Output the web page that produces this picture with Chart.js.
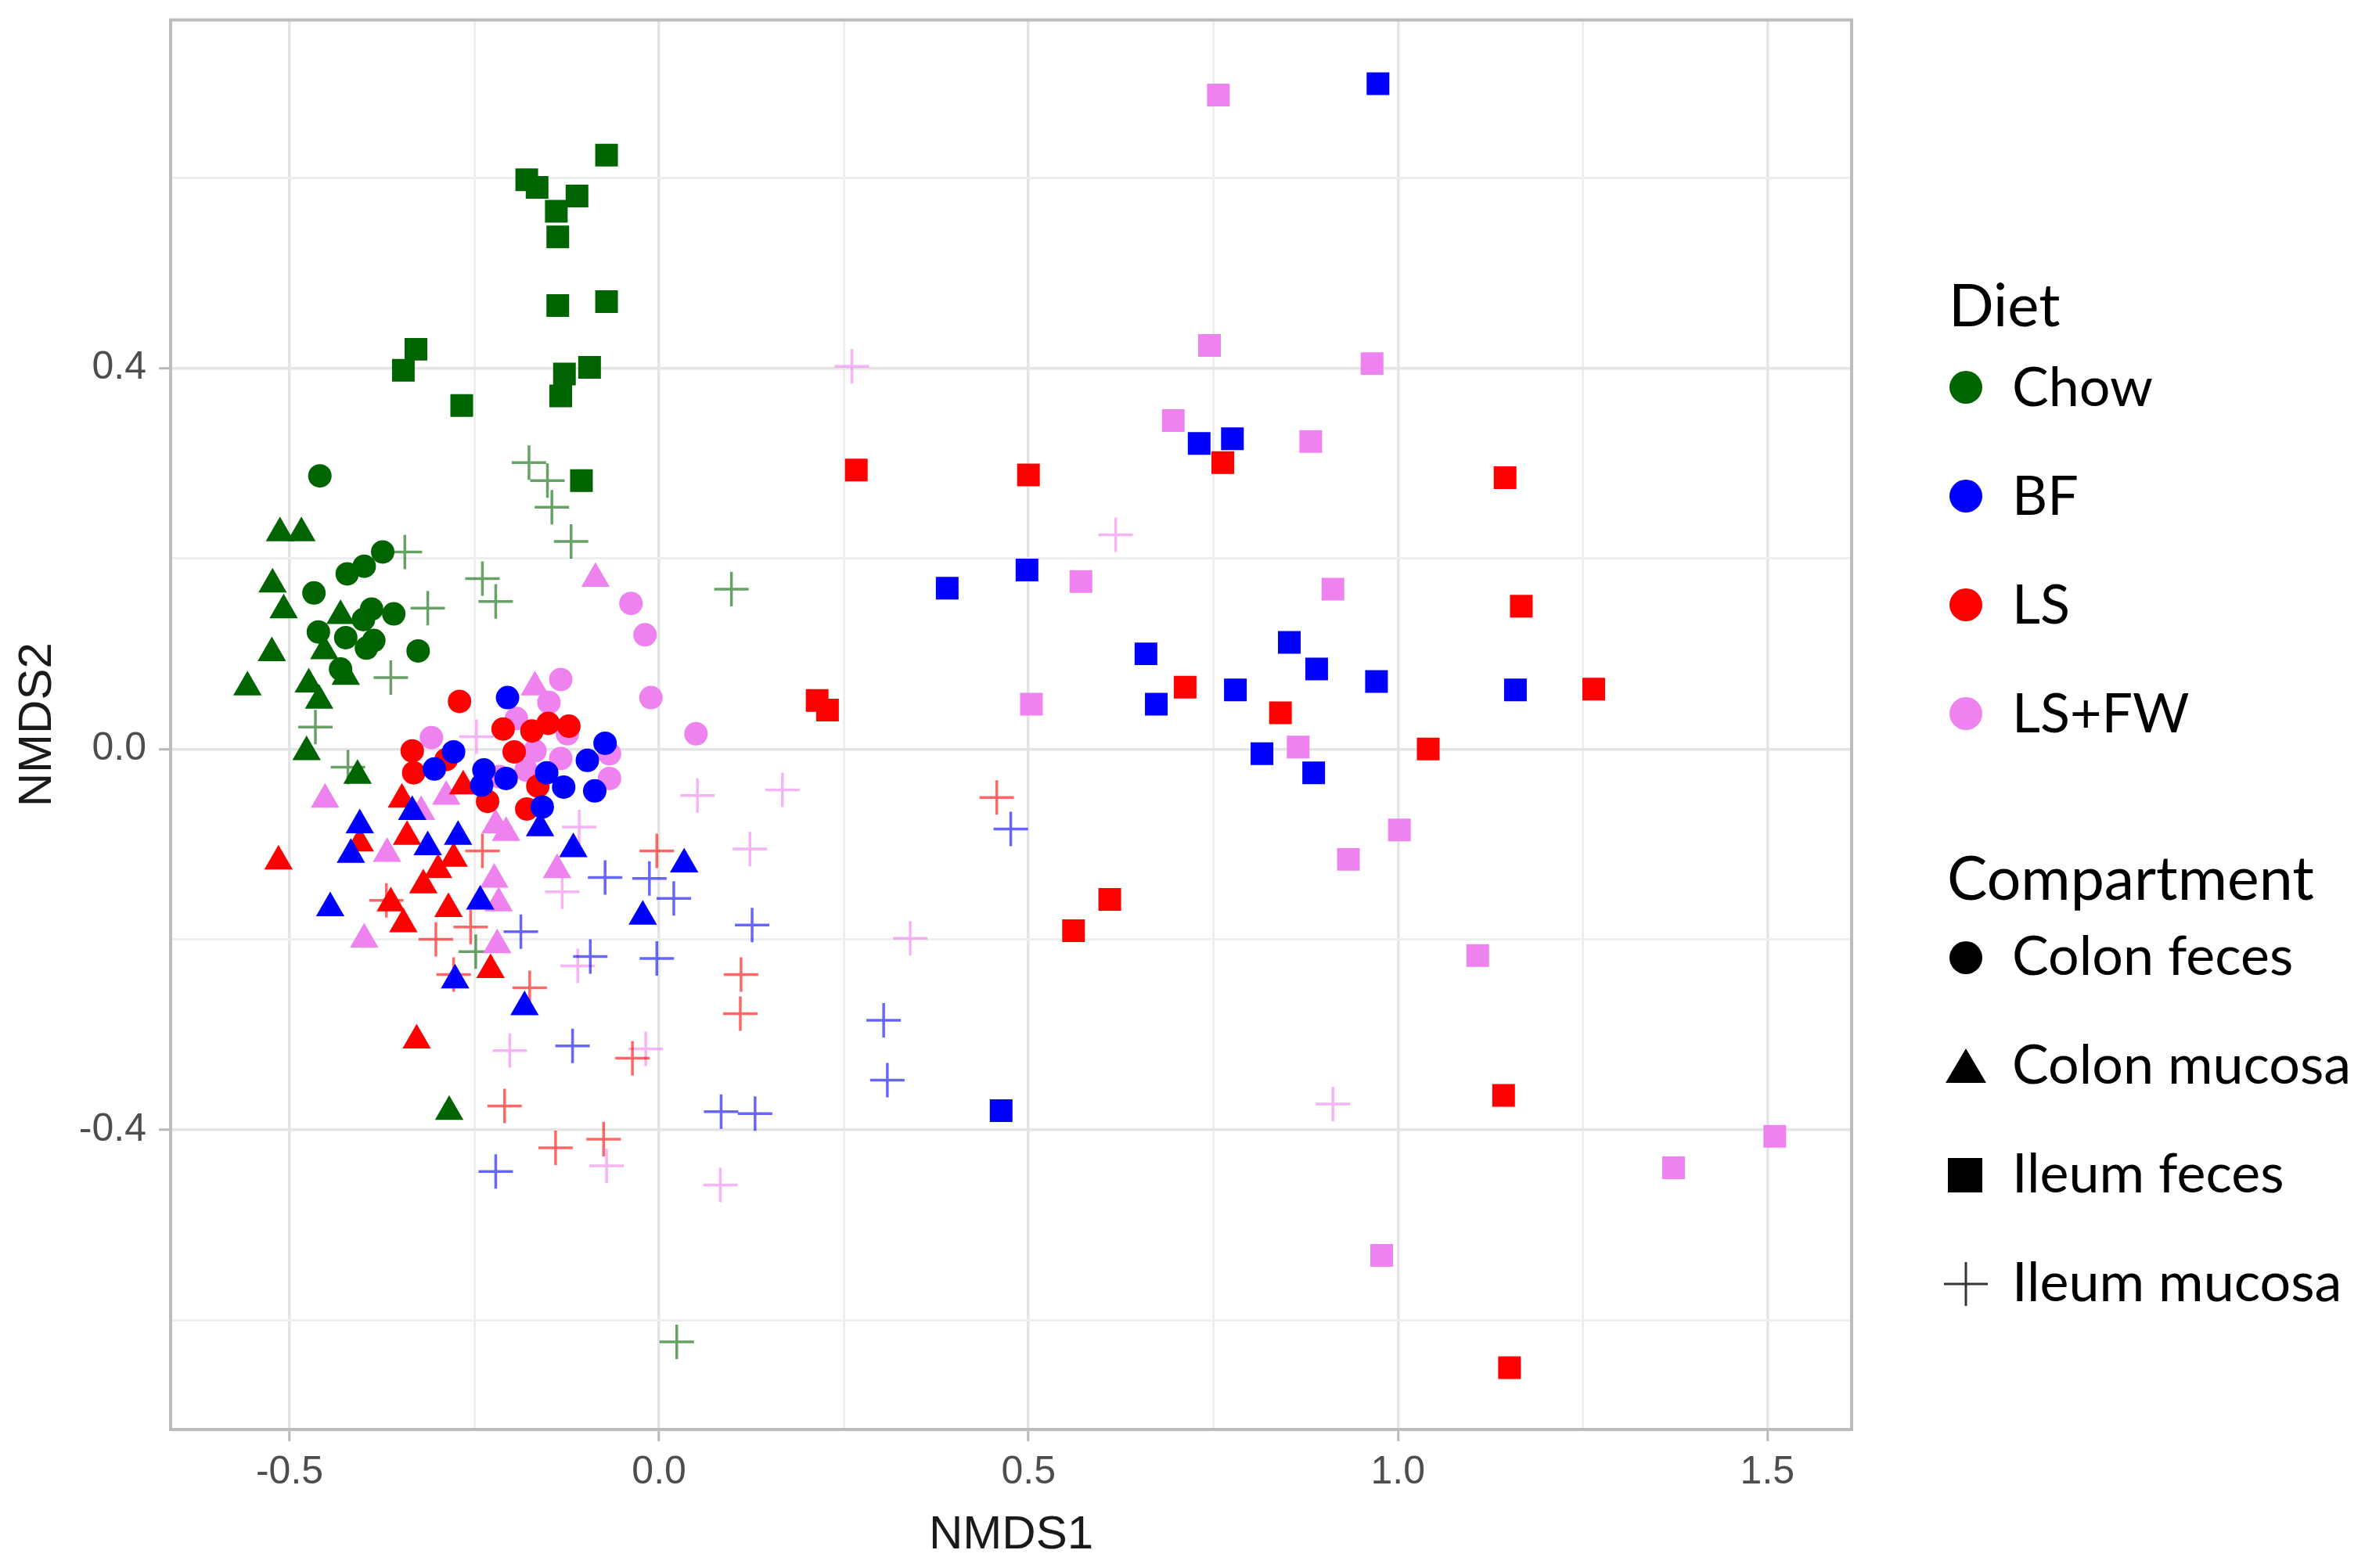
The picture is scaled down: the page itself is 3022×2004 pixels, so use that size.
<!DOCTYPE html>
<html>
<head>
<meta charset="utf-8">
<script src="https://cdn.jsdelivr.net/npm/chart.js@4.4.1/dist/chart.umd.min.js"></script>
<style>
  html, body { margin: 0; padding: 0; background: #ffffff; overflow: hidden; }
  #wrap { position: relative; width: 3022px; height: 2004px; }
  #c { position: absolute; left: 0; top: 0; width: 3022px; height: 2004px; }
  #legend { position: absolute; left: 0; top: 0; }
</style>
</head>
<body>
<div id="wrap">
  <canvas id="c" width="3022" height="2004"></canvas>
  <svg id="legend" width="3022" height="2004" xmlns="http://www.w3.org/2000/svg"></svg>
</div>
<script>
// ---------------- DATA ----------------
const dietNames = ['Chow', 'BF', 'LS', 'LS+FW'];
const compartmentNames = ['Colon feces', 'Colon mucosa', 'Ileum feces', 'Ileum mucosa'];

const xMajor = [-0.5, 0, 0.5, 1, 1.5];
const xLabels = ['-0.5', '0.0', '0.5', '1.0', '1.5'];
const xMinor = [-0.25, 0.25, 0.75, 1.25];
const yMajor = [-0.4, 0, 0.4];
const yLabels = ['-0.4', '0.0', '0.4'];
const yMinor = [-0.6, -0.2, 0.2, 0.6];
const xRange = [-0.661, 1.614];
const yRange = [-0.715, 0.766];

// Chow
const chowColonFeces = [[-0.459,0.287],[-0.374,0.207],[-0.399,0.192],[-0.422,0.184],[-0.467,0.164],[-0.389,0.147],[-0.359,0.142],[-0.400,0.136],[-0.461,0.123],[-0.424,0.117],[-0.386,0.114],[-0.396,0.106],[-0.326,0.103],[-0.431,0.084]];
const chowColonMucosa = [[-0.513,0.227],[-0.484,0.227],[-0.523,0.173],[-0.508,0.146],[-0.431,0.140],[-0.524,0.101],[-0.453,0.103],[-0.557,0.065],[-0.474,0.068],[-0.424,0.076],[-0.460,0.051],[-0.477,-0.003],[-0.408,-0.028],[-0.284,-0.381]];
const chowIleumFeces = [[-0.071,0.624],[-0.179,0.598],[-0.165,0.590],[-0.111,0.581],[-0.139,0.565],[-0.137,0.538],[-0.137,0.466],[-0.071,0.470],[-0.329,0.420],[-0.346,0.398],[-0.267,0.361],[-0.094,0.401],[-0.128,0.394],[-0.133,0.371],[-0.105,0.282]];
const chowIleumMucosa = [[-0.176,0.301],[-0.151,0.282],[-0.145,0.254],[-0.119,0.218],[-0.344,0.207],[-0.313,0.148],[-0.363,0.075],[-0.465,0.023],[-0.421,-0.019],[-0.239,0.179],[-0.221,0.155],[0.098,0.168],[-0.248,-0.213],[0.024,-0.623]];
// BF
const bfColonFeces = [[-0.205,0.054],[-0.278,-0.003],[-0.304,-0.021],[-0.237,-0.022],[-0.207,-0.031],[-0.152,-0.025],[-0.129,-0.040],[-0.158,-0.061],[-0.097,-0.012],[-0.073,0.006],[-0.087,-0.044],[-0.240,-0.038]];
const bfColonMucosa = [[-0.405,-0.080],[-0.417,-0.111],[-0.445,-0.167],[-0.334,-0.066],[-0.272,-0.092],[-0.313,-0.103],[-0.161,-0.083],[-0.116,-0.105],[-0.242,-0.160],[-0.276,-0.243],[-0.182,-0.271],[0.034,-0.121],[-0.022,-0.176]];
const bfIleumFeces = [[0.973,0.699],[0.731,0.321],[0.776,0.326],[0.390,0.169],[0.498,0.188],[0.659,0.100],[0.673,0.047],[0.853,0.112],[0.890,0.084],[0.780,0.062],[0.971,0.071],[1.159,0.062],[0.816,-0.005],[0.886,-0.025],[0.463,-0.380]];
const bfIleumMucosa = [[-0.073,-0.135],[-0.013,-0.136],[0.020,-0.157],[0.126,-0.185],[-0.093,-0.218],[-0.003,-0.220],[-0.187,-0.192],[-0.117,-0.312],[0.304,-0.285],[0.309,-0.348],[0.084,-0.381],[0.130,-0.383],[-0.221,-0.444],[0.476,-0.084]];
// LS
const lsColonFeces = [[-0.270,0.050],[-0.211,0.021],[-0.334,-0.002],[-0.332,-0.025],[-0.172,0.019],[-0.150,0.027],[-0.122,0.024],[-0.196,-0.003],[-0.164,-0.039],[-0.179,-0.063],[-0.232,-0.055],[-0.288,-0.011]];
const lsColonMucosa = [[-0.515,-0.118],[-0.348,-0.053],[-0.265,-0.039],[-0.405,-0.099],[-0.341,-0.092],[-0.278,-0.115],[-0.299,-0.127],[-0.319,-0.143],[-0.363,-0.162],[-0.346,-0.184],[-0.285,-0.168],[-0.228,-0.232],[-0.328,-0.306]];
const lsIleumFeces = [[0.267,0.293],[0.500,0.288],[0.763,0.301],[1.145,0.285],[1.167,0.150],[1.265,0.063],[0.712,0.065],[0.841,0.038],[1.041,0.000],[0.214,0.051],[0.228,0.041],[0.610,-0.158],[0.561,-0.191],[1.143,-0.364],[1.151,-0.650]];
const lsIleumMucosa = [[-0.239,-0.107],[-0.003,-0.107],[-0.369,-0.159],[-0.302,-0.200],[-0.255,-0.187],[-0.278,-0.237],[-0.175,-0.251],[-0.209,-0.375],[-0.140,-0.419],[-0.075,-0.410],[-0.036,-0.325],[0.111,-0.237],[0.110,-0.278],[0.457,-0.051]];
// LS+FW
const lsfwColonFeces = [[-0.133,0.073],[-0.149,0.049],[-0.193,0.032],[-0.308,0.012],[-0.124,0.016],[-0.168,-0.002],[-0.180,-0.022],[-0.133,-0.010],[-0.067,-0.005],[-0.067,-0.031],[-0.216,-0.029],[-0.038,0.153],[-0.019,0.120],[-0.011,0.054],[0.050,0.016]];
const lsfwColonMucosa = [[-0.086,0.179],[-0.168,0.065],[-0.452,-0.053],[-0.288,-0.050],[-0.322,-0.066],[-0.221,-0.080],[-0.207,-0.088],[-0.368,-0.110],[-0.223,-0.137],[-0.138,-0.127],[-0.217,-0.162],[-0.399,-0.200],[-0.219,-0.206]];
const lsfwIleumFeces = [[0.757,0.687],[0.745,0.424],[0.965,0.405],[0.696,0.345],[0.882,0.323],[0.571,0.176],[0.912,0.168],[0.504,0.047],[0.865,0.002],[1.002,-0.085],[0.933,-0.116],[1.108,-0.217],[1.373,-0.440],[1.510,-0.407],[0.978,-0.532]];
const lsfwIleumMucosa = [[-0.247,0.013],[-0.108,-0.082],[-0.131,-0.150],[0.052,-0.049],[0.167,-0.043],[0.123,-0.105],[0.340,-0.199],[-0.110,-0.228],[-0.018,-0.315],[-0.202,-0.317],[-0.071,-0.438],[0.083,-0.458],[0.261,0.402],[0.618,0.225],[0.912,-0.373]];

// ---------------- STYLE ----------------
const dietColors = ['#006400', '#0000ff', '#ff0000', '#ee82ee'];
const compStyles = [
  { pointStyle: 'circle',   radius: 15,   filled: true },
  { pointStyle: 'triangle', radius: 21,   filled: true },
  { pointStyle: 'rect',     radius: 20.5, filled: true },
  { pointStyle: 'cross',    radius: 22,   filled: false }
];
const seriesByComp = [
  [chowColonFeces, bfColonFeces, lsColonFeces, lsfwColonFeces],
  [chowColonMucosa, bfColonMucosa, lsColonMucosa, lsfwColonMucosa],
  [chowIleumFeces, bfIleumFeces, lsIleumFeces, lsfwIleumFeces],
  [chowIleumMucosa, bfIleumMucosa, lsIleumMucosa, lsfwIleumMucosa]
];

function rgba(hex, a) {
  const n = parseInt(hex.slice(1), 16);
  return `rgba(${(n >> 16) & 255},${(n >> 8) & 255},${n & 255},${a})`;
}
function isIn(v, arr) { return arr.some(m => Math.abs(m - v) < 1e-9); }
function labelOf(v, arr, labels) {
  const i = arr.findIndex(m => Math.abs(m - v) < 1e-9);
  return i < 0 ? '' : labels[i];
}

const datasets = [];
seriesByComp.forEach((group, ci) => {
  const st = compStyles[ci];
  group.forEach((data, di) => {
    const col = dietColors[di];
    datasets.push({
      label: dietNames[di] + ' / ' + compartmentNames[ci],
      data: data,
      pointStyle: st.pointStyle,
      pointRadius: st.radius,
      pointHoverRadius: st.radius,
      backgroundColor: st.filled ? col : 'rgba(0,0,0,0)',
      borderColor: st.filled ? col : rgba(col, 0.6),
      borderWidth: st.filled ? 0 : 3.5,
      showLine: false
    });
  });
});

const panelBorder = {
  id: 'panelBorder',
  afterDatasetsDraw(chart) {
    const { ctx, chartArea: a } = chart;
    ctx.save();
    ctx.strokeStyle = '#bcbcbc';
    ctx.lineWidth = 4;
    ctx.strokeRect(a.left, a.top, a.right - a.left, a.bottom - a.top);
    ctx.restore();
  }
};

const tickFont = { family: 'Liberation Sans, Arial, sans-serif', size: 50 };
const titleFont = { family: 'Liberation Sans, Arial, sans-serif', size: 60 };

new Chart(document.getElementById('c'), {
  type: 'scatter',
  data: { datasets },
  plugins: [panelBorder],
  options: {
    responsive: false,
    animation: false,
    devicePixelRatio: 1,
    layout: { padding: { left: 0, top: 23, right: 656, bottom: 0 } },
    plugins: { legend: { display: false }, tooltip: { enabled: false } },
    scales: {
      x: {
        type: 'linear',
        min: xRange[0], max: xRange[1],
        afterBuildTicks: s => { s.ticks = xMajor.concat(xMinor).sort((a, b) => a - b).map(v => ({ value: v })); },
        afterFit: s => { s.height = 177; s.paddingLeft = 0; s.paddingRight = 0; },
        border: { display: false },
        grid: {
          color: c => (c.tick && isIn(c.tick.value, xMajor)) ? '#e4e4e4' : '#eeeeee',
          lineWidth: c => (c.tick && isIn(c.tick.value, xMajor)) ? 3.5 : 3,
          drawTicks: true,
          tickLength: 15,
          tickWidth: 3,
          tickColor: c => (c.tick && isIn(c.tick.value, xMajor)) ? '#b8b8b8' : 'rgba(0,0,0,0)'
        },
        ticks: {
          autoSkip: false, maxRotation: 0, minRotation: 0, padding: 10,
          color: '#4d4d4d', font: tickFont,
          callback: v => labelOf(v, xMajor, xLabels)
        },
        title: { display: true, text: 'NMDS1', color: '#1a1a1a', font: titleFont, padding: { top: 0, bottom: 6 } }
      },
      y: {
        type: 'linear',
        min: yRange[0], max: yRange[1],
        afterBuildTicks: s => { s.ticks = yMajor.concat(yMinor).sort((a, b) => a - b).map(v => ({ value: v })); },
        afterFit: s => { s.width = 218; s.paddingTop = 0; s.paddingBottom = 0; },
        border: { display: false },
        grid: {
          color: c => (c.tick && isIn(c.tick.value, yMajor)) ? '#e4e4e4' : '#eeeeee',
          lineWidth: c => (c.tick && isIn(c.tick.value, yMajor)) ? 3.5 : 3,
          drawTicks: true,
          tickLength: 15,
          tickWidth: 3,
          tickColor: c => (c.tick && isIn(c.tick.value, yMajor)) ? '#b8b8b8' : 'rgba(0,0,0,0)'
        },
        ticks: {
          autoSkip: false, padding: 16,
          color: '#4d4d4d', font: tickFont,
          callback: v => labelOf(v, yMajor, yLabels)
        },
        title: { display: true, text: 'NMDS2', color: '#1a1a1a', font: titleFont, padding: { top: 12, bottom: 0 } }
      }
    }
  }
});

// ---------------- LEGEND (SVG text) ----------------
const NS = 'http://www.w3.org/2000/svg';
const svg = document.getElementById('legend');
function el(tag, attrs, text) {
  const e = document.createElementNS(NS, tag);
  for (const k in attrs) e.setAttribute(k, attrs[k]);
  if (text !== undefined) e.textContent = text;
  svg.appendChild(e);
  return e;
}
const lgFont = 'Lato, Carlito, sans-serif';
const keyX = 2512, textX = 2571, step = 139;
el('text', { x: 2490, y: 417, 'font-family': lgFont, 'font-size': 76, fill: '#000' }, 'Diet');
dietNames.forEach((name, i) => {
  const cy = 495 + step * i;
  el('circle', { cx: keyX, cy: cy, r: 21, fill: dietColors[i] });
  el('text', { x: textX, y: cy + 24, 'font-family': lgFont, 'font-size': 70, fill: '#000' }, name);
});
el('text', { x: 2488, y: 1150, 'font-family': lgFont, 'font-size': 77, fill: '#000' }, 'Compartment');
compartmentNames.forEach((name, i) => {
  const cy = 1224 + step * i;
  const st = compStyles[i].pointStyle;
  if (st === 'circle') el('circle', { cx: keyX, cy: cy, r: 21, fill: '#000' });
  else if (st === 'triangle') el('polygon', { points: `${keyX - 26},${cy + 21} ${keyX + 26},${cy + 21} ${keyX},${cy - 23}`, fill: '#000' });
  else if (st === 'rect') el('rect', { x: keyX - 23, y: cy - 22, width: 44, height: 44, fill: '#000' });
  else {
    el('line', { x1: keyX - 28, y1: cy, x2: keyX + 28, y2: cy, stroke: '#333', 'stroke-width': 3 });
    el('line', { x1: keyX, y1: cy - 28, x2: keyX, y2: cy + 28, stroke: '#333', 'stroke-width': 3 });
  }
  el('text', { x: textX, y: cy + 22, 'font-family': lgFont, 'font-size': 70, fill: '#000' }, name);
});
</script>
</body>
</html>
